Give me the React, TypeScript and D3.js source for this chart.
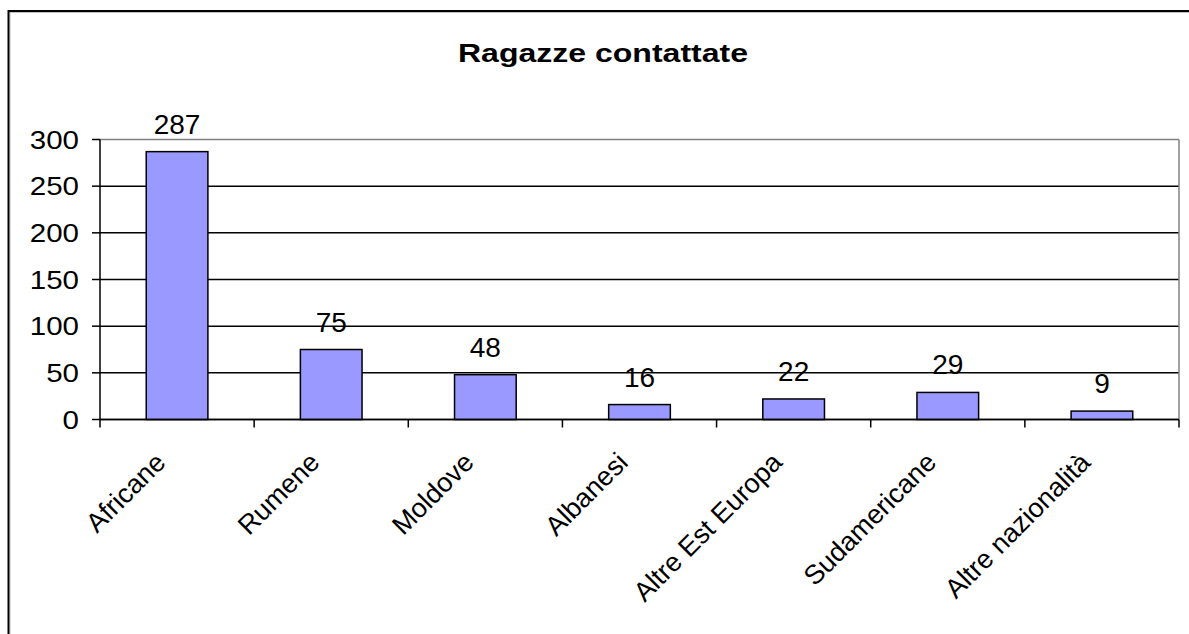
import React from "react";
import * as d3 from "d3";

const categories = ["Africane", "Rumene", "Moldove", "Albanesi", "Altre Est Europa", "Sudamericane", "Altre nazionalità"];
const values = [287, 75, 48, 16, 22, 29, 9];
const yTicks = [0, 50, 100, 150, 200, 250, 300];
const title = "Ragazze contattate";

const W = 1189;
const H = 634;
const plot = { left: 100, right: 1179, top: 139.5, bottom: 419.5 };
const FONT = "Arial, 'Liberation Sans', Helvetica, sans-serif";

export default function App() {
  const x = d3
    .scaleBand<string>()
    .domain(categories)
    .range([plot.left, plot.right])
    .paddingInner(0.6)
    .paddingOuter(0.3);
  const y = d3.scaleLinear().domain([0, 300]).range([plot.bottom, plot.top]);
  const step = x.step();
  const boundaries = d3.range(categories.length + 1).map((i) => plot.left + i * step);

  return (
    <svg
      width={W}
      height={H}
      style={{ position: "absolute", left: 0, top: 0, overflow: "hidden", background: "#fff" }}
      fontFamily={FONT}
    >
      <rect x={0} y={0} width={W} height={H} fill="#fff" />
      {/* outer chart border (extends beyond view on right/bottom) */}
      <rect x={10} y={12.5} width={W + 20} height={H + 20} fill="none" stroke="#c0c0c0" strokeWidth={1} />
      <rect x={8.5} y={11} width={W + 20} height={H + 20} fill="none" stroke="#000" strokeWidth={2} />

      {/* title */}
      <text
        x={603}
        y={62}
        textAnchor="middle"
        fontSize={25.6}
        fontWeight="bold"
        textLength={290}
        lengthAdjust="spacingAndGlyphs"
      >
        {title}
      </text>

      {/* gridlines */}
      {yTicks.map((t) => (
        <line
          key={"g" + t}
          x1={plot.left}
          x2={plot.right}
          y1={y(t)}
          y2={y(t)}
          stroke={t === 300 ? "#808080" : "#000"}
          strokeWidth={1.5}
        />
      ))}
      {/* plot right border */}
      <line x1={plot.right} x2={plot.right} y1={plot.top} y2={plot.bottom} stroke="#808080" strokeWidth={1.5} />

      {/* bars */}
      {categories.map((c, i) => (
        <rect
          key={c}
          x={x(c)}
          y={y(values[i])}
          width={x.bandwidth()}
          height={y(0) - y(values[i])}
          fill="#9999FF"
          stroke="#000"
          strokeWidth={1.5}
        />
      ))}

      {/* y axis */}
      <line x1={plot.left} x2={plot.left} y1={plot.top} y2={plot.bottom} stroke="#000" strokeWidth={1.5} />
      {yTicks.map((t) => (
        <g key={"t" + t}>
          <line x1={plot.left - 8} x2={plot.left} y1={y(t)} y2={y(t)} stroke="#000" strokeWidth={1.5} />
          <text
            transform={`translate(79,${y(t) + 9}) scale(1.18,1)`}
            textAnchor="end"
            fontSize={25}
          >
            {t}
          </text>
        </g>
      ))}

      {/* x axis */}
      <line x1={plot.left} x2={plot.right} y1={y(0)} y2={y(0)} stroke="#000" strokeWidth={1.5} />
      {boundaries.map((b, i) => (
        <line key={"xt" + i} x1={b} x2={b} y1={y(0)} y2={y(0) + 8} stroke="#000" strokeWidth={1.5} />
      ))}

      {/* value labels */}
      {categories.map((c, i) => (
        <text
          key={"v" + c}
          x={(x(c) as number) + x.bandwidth() / 2}
          y={y(values[i]) - 18}
          textAnchor="middle"
          fontSize={28}
        >
          {values[i]}
        </text>
      ))}

      {/* category labels */}
      {categories.map((c) => {
        const cx = (x(c) as number) + x.bandwidth() / 2;
        return (
          <text
            key={"c" + c}
            transform={`translate(${cx - 10},464) rotate(-45)`}
            textAnchor="end"
            fontSize={27}
          >
            {c}
          </text>
        );
      })}
    </svg>
  );
}
